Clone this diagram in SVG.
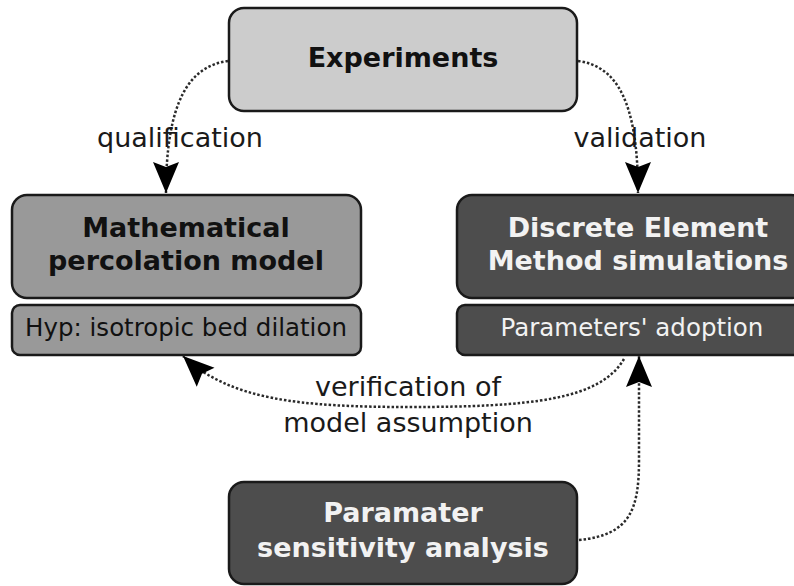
<svg xmlns="http://www.w3.org/2000/svg" width="794" height="586" viewBox="0 0 794 586">
<style>
.box{stroke:#1a1a1a;stroke-width:2.5}
.light{fill:#cccccc}
.mid{fill:#999999}
.dark{fill:#4d4d4d}
.title{font-family:"DejaVu Sans",sans-serif;font-weight:bold;font-size:27px;text-anchor:middle}
.sub{font-family:"DejaVu Sans",sans-serif;font-size:24.5px;text-anchor:middle}
.lbl{font-family:"DejaVu Sans",sans-serif;font-size:27px;text-anchor:middle;fill:#1a1a1a}
.blk{fill:#111111}
.wht{fill:#f2f2f2}
.con{fill:none;stroke:#2a2a2a;stroke-width:2.5;stroke-dasharray:2.5,2}
</style>
<defs>
<marker id="arr" markerUnits="userSpaceOnUse" markerWidth="34" markerHeight="30" refX="31" refY="15" orient="auto" viewBox="0 0 34 30">
<path d="M31,15 L0,2 L5,15 L0,28 Z" fill="#000"/>
</marker>
</defs>
<g id="experiments">
<rect class="box light" x="229" y="8" width="348" height="103" rx="15"/>
<text class="title blk" x="403" y="67">Experiments</text>
</g>
<g id="math-model">
<rect class="box mid" x="12" y="195" width="349" height="103" rx="15"/>
<text class="title blk" x="186" y="237">Mathematical</text>
<text class="title blk" x="186" y="270">percolation model</text>
</g>
<g id="hyp">
<rect class="box mid" x="12" y="305" width="349" height="50" rx="8"/>
<text class="sub blk" x="186" y="336">Hyp: isotropic bed dilation</text>
</g>
<g id="dem">
<rect class="box dark" x="457" y="195" width="349" height="103" rx="15"/>
<text class="title wht" x="638" y="237">Discrete Element</text>
<text class="title wht" x="638" y="270">Method simulations</text>
</g>
<g id="adoption">
<rect class="box dark" x="457" y="305" width="349" height="50" rx="8"/>
<text class="sub wht" x="632" y="336">Parameters' adoption</text>
</g>
<g id="sensitivity">
<rect class="box dark" x="229" y="482" width="348" height="102" rx="15"/>
<text class="title wht" x="403" y="522">Paramater</text>
<text class="title wht" x="403" y="557">sensitivity analysis</text>
</g>
<g id="connectors">
<path class="con" d="M228,61 C190,66 166,100 166,193" marker-end="url(#arr)"/>
<path class="con" d="M578,61 C616,66 638,100 638,193" marker-end="url(#arr)"/>
<path class="con" d="M624,359 C600,400 530,407 410,407 C300,407 230,400 183,356" marker-end="url(#arr)"/>
<path class="con" d="M579,540 C630,535 639,510 639,460 L639,356" marker-end="url(#arr)"/>
<text class="lbl" x="180" y="147">qualification</text>
<text class="lbl" x="640" y="147">validation</text>
<text class="lbl" x="408" y="396">verification of</text>
<text class="lbl" x="408" y="432">model assumption</text>
</g>
</svg>
